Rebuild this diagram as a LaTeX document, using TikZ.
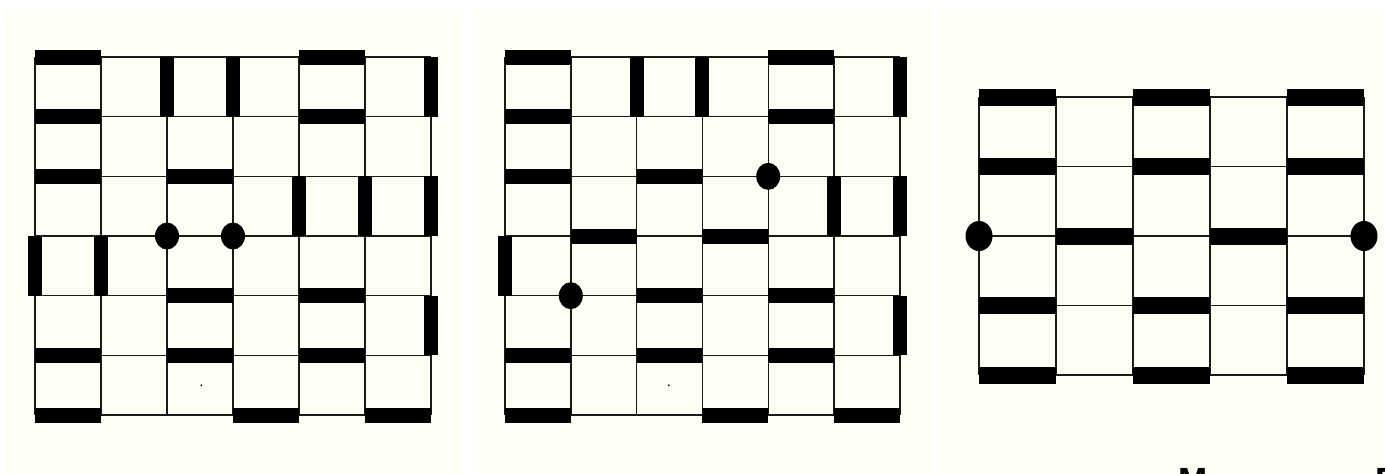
\documentclass[tikz,border=0pt]{standalone}
\usepackage{fontspec}
\setmainfont{Liberation Sans}
\definecolor{paper}{HTML}{FEFEF4}
\definecolor{gridc}{HTML}{1A1A1A}
\tikzset{
  gridline/.style={draw=gridc, line width=1.4pt},
  hbar/.style={draw=black, line width=15pt, line cap=butt},
  vbar/.style={draw=black, line width=14pt, line cap=butt},
  hbarB/.style={draw=black, line width=17pt, line cap=butt},
  monomer/.style={fill=black},
  speck/.style={fill=black},
  caption/.style={font=\fontsize{35}{35}\bfseries\selectfont, inner sep=0pt, anchor=base west}
}
\begin{document}
\begin{tikzpicture}[x=1pt,y=-1pt]
\useasboundingbox (0,0) rectangle (1385,474);
\fill[white] (0,0) rectangle (1385,474);
\fill[paper] (5,9) rectangle (462,474);
\fill[paper] (472,9) rectangle (932,474);
\fill[paper] (942,9) rectangle (1385,474);

% ---------- panel 1 ----------
\begin{scope}[shift={(35pt,-57pt)}, x=66pt, y=-59.67pt]
  \foreach \i in {0,...,6} {\draw[gridline] (\i,0) -- (\i,6);}
  \foreach \j in {0,...,6} {\draw[gridline] (0,\j) -- (6,\j);}
  % horizontal dimers
  \foreach \i/\j in {0/0,4/0, 0/1,4/1, 0/2,2/2, 2/4,4/4, 0/5,2/5,4/5, 0/6,3/6,5/6}
    {\draw[hbar] (\i,\j) -- (\i+1,\j);}
  % vertical dimers
  \foreach \i/\j in {2/0,3/0,6/0, 4/2,5/2,6/2, 0/3,1/3, 6/4}
    {\draw[vbar] (\i,\j) -- (\i,\j+1);}
  \fill[monomer] (2,3) ellipse [x radius=12pt, y radius=13.5pt];
  \fill[monomer] (3,3) ellipse [x radius=12pt, y radius=13.5pt];
  \fill[speck] (2.52,5.5) circle [radius=1pt];
\end{scope}

% ---------- panel 2 ----------
\begin{scope}[shift={(505pt,-57pt)}, x=65.8pt, y=-59.67pt]
  \foreach \i in {0,...,6} {\draw[gridline] (\i,0) -- (\i,6);}
  \foreach \j in {0,...,6} {\draw[gridline] (0,\j) -- (6,\j);}
  \foreach \i/\j in {0/0,4/0, 0/1,4/1, 0/2,2/2, 1/3,3/3, 2/4,4/4, 0/5,2/5,4/5, 0/6,3/6,5/6}
    {\draw[hbar] (\i,\j) -- (\i+1,\j);}
  \foreach \i/\j in {2/0,3/0,6/0, 5/2,6/2, 0/3, 6/4}
    {\draw[vbar] (\i,\j) -- (\i,\j+1);}
  \fill[monomer] (4,2) ellipse [x radius=12pt, y radius=13.5pt];
  \fill[monomer] (1,4) ellipse [x radius=12pt, y radius=13.5pt];
  \fill[speck] (2.49,5.5) circle [radius=1pt];
\end{scope}

% ---------- panel 3 ----------
\begin{scope}[shift={(979pt,-97pt)}, x=77pt, y=-69.5pt]
  \foreach \i in {0,...,5} {\draw[gridline] (\i,0) -- (\i,4);}
  \foreach \j in {0,...,4} {\draw[gridline] (0,\j) -- (5,\j);}
  \foreach \i/\j in {0/0,2/0,4/0, 0/1,2/1,4/1, 1/2,3/2, 0/3,2/3,4/3, 0/4,2/4,4/4}
    {\draw[hbarB] (\i,\j) -- (\i+1,\j);}
  \fill[monomer] (0,2) ellipse [x radius=13.5pt, y radius=15pt];
  \fill[monomer] (5,2) ellipse [x radius=13.5pt, y radius=15pt];
\end{scope}

% ---------- cut-off caption ----------
\node[caption] (capM) at (1178,492) {M};
\node[caption] (capF) at (1375,492) {F};
\end{tikzpicture}
\end{document}
